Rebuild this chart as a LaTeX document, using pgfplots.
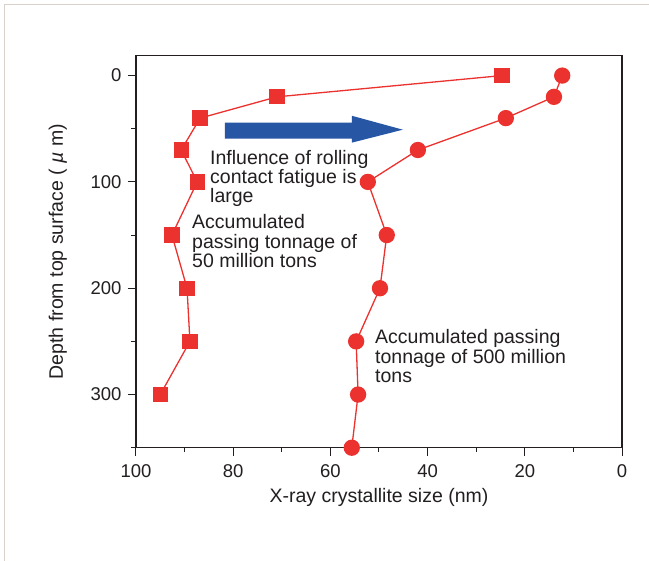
\documentclass[border=0pt]{standalone}
\usepackage{pgfplots}
\pgfplotsset{compat=1.18}
\usepackage{fontspec}
\setmainfont{Liberation Sans}
\definecolor{myred}{RGB}{236,50,47}
\definecolor{myblue}{RGB}{39,86,165}
\definecolor{frame}{RGB}{218,210,202}
\definecolor{txt}{RGB}{35,31,32}
\begin{document}
\begin{tikzpicture}
\useasboundingbox (0bp,0bp) rectangle (649bp,561bp);
\fill[white] (0bp,0bp) rectangle (649bp,561bp);
\draw[color=frame, line width=1.2bp] (4.5bp,0bp) -- (4.5bp,556.5bp) -- (649bp,556.5bp);
\begin{axis}[
  at={(136bp,113.3bp)}, anchor=south west,
  width=486bp, height=392bp, scale only axis,
  x dir=reverse, y dir=reverse,
  xmin=0, xmax=100, ymin=-18.7, ymax=350,
  xtick={0,20,...,100}, minor xtick={10,30,...,90},
  ytick={0,100,200,300}, minor ytick={50,150,250,350},
  tick align=outside, xtick pos=lower, ytick pos=lower,
  xticklabel pos=lower, yticklabel pos=lower,
  major tick length=8bp, minor tick length=4.5bp,
  axis line style={line width=1.3bp, color=txt},
  every tick/.style={line width=1bp, txt},
  ticklabel style={font=\fontsize{18.5bp}{22bp}\selectfont, color=txt},
  xticklabel style={yshift=-5bp},
  yticklabel style={xshift=-3bp},
  /pgf/number format/assume math mode=true,
  xlabel={X-ray crystallite size (nm)},
  ylabel={Depth from top surface ( \textit{µ} m)},
  every axis x label/.style={at={(axis description cs:0.5,-0.1276)}, anchor=center, font=\fontsize{19.5bp}{22bp}\selectfont, text=txt},
  every axis y label/.style={at={(axis description cs:-0.161,0.5)}, anchor=center, rotate=90, font=\fontsize{19.5bp}{22bp}\selectfont, text=txt},
  clip=false,
]
\fill[myblue] (axis cs:81.7,44.3) -- (axis cs:55.6,44.3) -- (axis cs:55.6,37.8) -- (axis cs:45.1,50.9) -- (axis cs:55.6,63.1) -- (axis cs:55.6,59.3) -- (axis cs:81.7,59.3) -- cycle;
\addplot[color=myred, line width=1.3bp, mark=square*, mark size=7bp, mark options={fill=myred, draw=none}] coordinates {
(24.7,0) (71,20) (86.8,40) (90.7,70) (87.4,100) (92.6,150) (89.5,200) (88.9,250) (95,300)};
\addplot[color=myred, line width=1.3bp, mark=*, mark size=7.5bp, mark options={fill=myred, draw=none}] coordinates {
(12.3,0) (14,20) (23.9,40) (42,70) (52.3,100) (48.4,150) (49.8,200) (54.7,250) (54.3,300) (55.6,350)};
\end{axis}
\begin{scope}[every node/.style={anchor=base west, inner sep=0pt, font=\fontsize{19.5bp}{22bp}\selectfont, text=txt}]
\node at (210bp,396bp) {Influence of rolling};
\node at (210bp,377bp) {contact fatigue is};
\node at (210bp,358bp) {large};
\node at (192bp,332bp) {Accumulated};
\node at (192bp,312.5bp) {passing tonnage of};
\node at (192bp,293bp) {50 million tons};
\node at (375bp,217bp) {Accumulated passing};
\node at (375bp,197.5bp) {tonnage of 500 million};
\node at (375bp,178bp) {tons};
\end{scope}
\end{tikzpicture}
\end{document}
